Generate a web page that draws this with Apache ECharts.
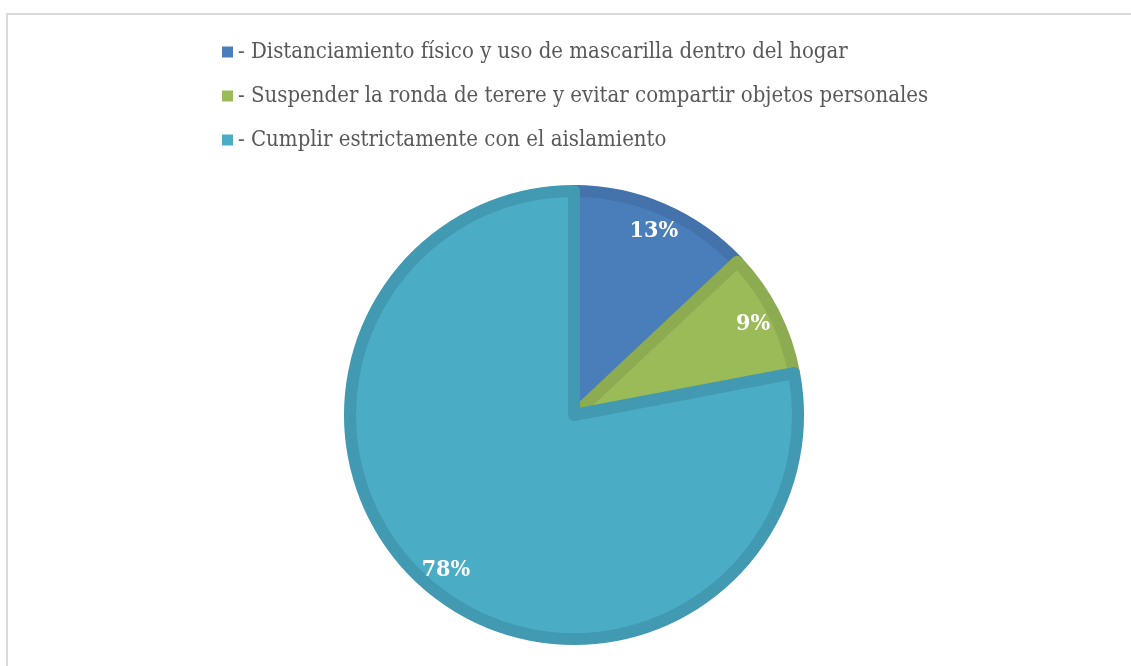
<!DOCTYPE html>
<html>
<head>
<meta charset="utf-8">
<script src="https://cdn.jsdelivr.net/npm/echarts@6/dist/echarts.min.js"></script>
<style>
  html, body { margin: 0; padding: 0; background: #fff; }
  #chart { width: 1131px; height: 666px; }
</style>
</head>
<body>
<div id="chart"></div>
<script>
// 数据
const categories = [
  '- Distanciamiento físico y uso de mascarilla dentro del hogar',
  '- Suspender la ronda de terere y evitar compartir objetos personales',
  '- Cumplir estrictamente con el aislamiento',
]
const values = [13, 9, 78]
const colors = ['#4a7ebb', '#9bbb59', '#4bacc6']
const borderColors = ['#4472aa', '#8dab51', '#4299b2']

const chart = echarts.init(document.getElementById('chart'))

const CENTER = [574, 415]
const FONT = '"DejaVu Serif Condensed", "DejaVu Serif", serif'

const option = {
  animation: false,
  color: colors,
  graphic: [
    {
      type: 'rect',
      shape: { x: 7, y: 14, width: 1200, height: 700 },
      style: { fill: 'none', stroke: '#d9d9d9', lineWidth: 2 },
      silent: true,
    },
  ],
  legend: {
    orient: 'vertical',
    left: 222,
    top: 41,
    padding: 0,
    itemWidth: 11,
    itemHeight: 11,
    itemGap: 22,
    icon: 'rect',
    itemStyle: { borderWidth: 0 },
    textStyle: { fontFamily: FONT, fontSize: 22, color: '#595959' },
  },
  series: [
    {
      type: 'pie',
      center: CENTER,
      radius: [0, 224],
      startAngle: 90,
      label: { show: false },
      labelLine: { show: false },
      itemStyle: { borderWidth: 12 },
      emphasis: { disabled: true },
      data: categories.map((name, i) => ({
        name,
        value: values[i],
        itemStyle: { color: colors[i], borderColor: borderColors[i] },
      })),
    },
    {
      // 标签层(透明环,把百分比放在靠外的位置)
      type: 'pie',
      center: CENTER,
      radius: [170, 226],
      startAngle: 90,
      silent: true,
      itemStyle: { color: 'rgba(0,0,0,0)', borderWidth: 0 },
      label: {
        show: true,
        position: 'inside',
        formatter: (p) => p.value + '%',
        color: '#fff',
        fontFamily: FONT,
        fontWeight: 'bold',
        fontSize: 23,
      },
      labelLine: { show: false },
      emphasis: { disabled: true },
      data: categories.map((name, i) => ({ name, value: values[i] })),
    },
  ],
}

chart.setOption(option)
</script>
</body>
</html>
